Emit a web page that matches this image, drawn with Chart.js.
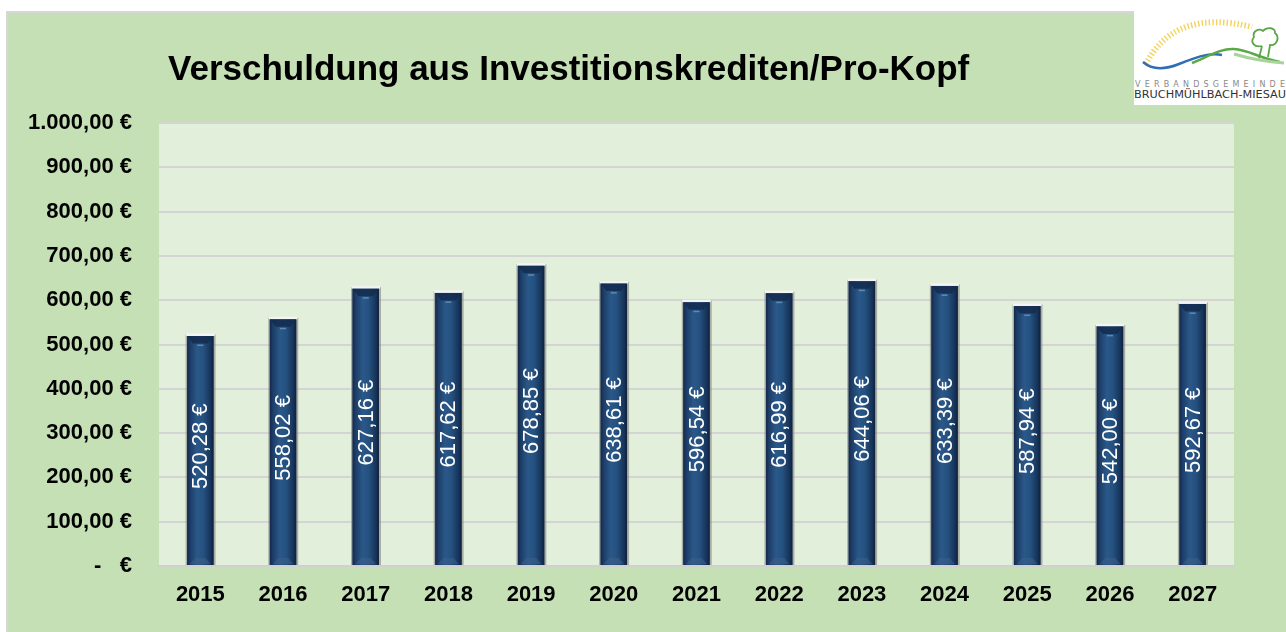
<!DOCTYPE html>
<html>
<head>
<meta charset="utf-8">
<script src="https://cdn.jsdelivr.net/npm/chart.js@4.4.1/dist/chart.umd.min.js"></script>
<style>
  html, body { margin: 0; padding: 0; background: #ffffff; }
  #wrap { position: relative; width: 1286px; height: 632px; overflow: hidden; }
  #c { position: absolute; left: 0; top: 0; }
  #logo { position: absolute; left: 1134px; top: 0; width: 152px; height: 105px; }
</style>
</head>
<body>
<div id="wrap">
  <canvas id="c" width="1286" height="632"></canvas>
  <svg id="logo" width="152" height="105" viewBox="0 0 152 105">
    <rect x="0" y="0" width="152" height="105" fill="#ffffff"/>
    <path d="M12 64 Q 40 8, 118 27" fill="none" stroke="#f3d35a" stroke-width="6" stroke-dasharray="1.4 2.2"/>
    <path d="M9 62 C 18 70, 30 70, 45 64 C 60 58, 75 52, 88 55" fill="none" stroke="#2f6db5" stroke-width="2.5"/>
    <path d="M58 63 C 75 56, 88 48, 100 49 C 115 50, 125 58, 146 62" fill="none" stroke="#5aa846" stroke-width="2.5"/>
    <path d="M100 54 C 120 60, 135 62, 150 63" fill="none" stroke="#a8d49a" stroke-width="3"/>
    <path d="M125 58 L128 46 M128 46 C 120 48, 116 42, 120 37 C 118 31, 125 28, 129 31 C 133 26, 142 28, 141 33 C 146 37, 143 46, 136 45 L134 57" fill="none" stroke="#5aa846" stroke-width="1.8"/>
    <text x="1" y="87" font-family="DejaVu Sans" font-size="8" fill="#8a8a8a" textLength="150" lengthAdjust="spacing">VERBANDSGEMEINDE</text>
    <text x="0" y="98" font-family="DejaVu Sans Condensed, DejaVu Sans" font-size="11" fill="#333333" textLength="152" lengthAdjust="spacingAndGlyphs">BRUCHMÜHLBACH-MIESAU</text>
  </svg>
</div>
<script>
const chartTitle = 'Verschuldung aus Investitionskrediten/Pro-Kopf';
const years = ['2015','2016','2017','2018','2019','2020','2021','2022','2023','2024','2025','2026','2027'];
const debtPerCapita = [520.28, 558.02, 627.16, 617.62, 678.85, 638.61, 596.54, 616.99, 644.06, 633.39, 587.94, 542.00, 592.67];
const yTicks = [0, 100, 200, 300, 400, 500, 600, 700, 800, 900, 1000];

function fmtEuro(v) {
  if (v === 0) return '-   €';
  const parts = v.toFixed(2).split('.');
  const intPart = parts[0].replace(/\B(?=(\d{3})+(?!\d))/g, '.');
  return intPart + ',' + parts[1] + ' €';
}
const FONT = '"Liberation Sans", Arial, sans-serif';

const backgroundPlugin = {
  id: 'bg',
  beforeDraw(chart) {
    const ctx = chart.ctx;
    const ca = chart.chartArea;
    ctx.save();
    ctx.fillStyle = '#ffffff';
    ctx.fillRect(0, 0, chart.width, chart.height);
    ctx.fillStyle = '#d6d6d6';
    ctx.fillRect(6, 11, chart.width - 6, chart.height - 11);
    ctx.fillStyle = '#c5e0b4';
    ctx.fillRect(8, 13, chart.width - 8, chart.height - 13);
    ctx.fillStyle = '#e2efda';
    ctx.fillRect(ca.left, ca.top, ca.right - ca.left, ca.bottom - ca.top);
    // title
    ctx.fillStyle = '#000000';
    ctx.font = 'bold 35px ' + FONT;
    ctx.textAlign = 'left';
    ctx.textBaseline = 'alphabetic';
    ctx.fillText(chartTitle, 168, 80);
    ctx.restore();
  }
};

const barStylePlugin = {
  id: 'barStyle',
  afterDatasetsDraw(chart) {
    const ctx = chart.ctx;
    const meta = chart.getDatasetMeta(0);
    ctx.save();
    meta.data.forEach((bar, i) => {
      const w = bar.width;
      const l = bar.x - w / 2, r = bar.x + w / 2;
      const t = bar.y, b = bar.base;
      ctx.fillStyle = 'rgba(120,120,120,0.55)';
      ctx.fillRect(l - 1.5, t - 1, w + 3.5, b - t + 1);
      const g = ctx.createLinearGradient(l, 0, r, 0);
      g.addColorStop(0, '#13284a');
      g.addColorStop(0.12, '#1d3e68');
      g.addColorStop(0.38, '#2a5889');
      g.addColorStop(0.62, '#24517f');
      g.addColorStop(0.88, '#17345a');
      g.addColorStop(1, '#0f213d');
      ctx.fillStyle = g;
      ctx.fillRect(l, t, w, b - t);
      ctx.fillStyle = '#f4f4f4';
      ctx.fillRect(l - 1, t - 2, w + 2, 2.5);
      ctx.fillStyle = 'rgba(20,45,80,0.9)';
      ctx.beginPath();
      ctx.moveTo(l, t + 0.5); ctx.lineTo(r, t + 0.5); ctx.lineTo(r - 6, t + 8); ctx.lineTo(l + 6, t + 8); ctx.closePath();
      ctx.fill();
      ctx.fillStyle = 'rgba(120,160,200,0.7)';
      ctx.fillRect(bar.x - 3, t + 9, 6, 1.5);
      ctx.fillStyle = 'rgba(60,95,135,0.6)';
      ctx.beginPath();
      ctx.moveTo(l + 3, b - 1); ctx.lineTo(r - 3, b - 1); ctx.lineTo(r - 8, b - 7); ctx.lineTo(l + 8, b - 7); ctx.closePath();
      ctx.fill();
      ctx.save();
      ctx.translate(bar.x + 1, (t + b) / 2 - 4);
      ctx.rotate(-Math.PI / 2);
      ctx.fillStyle = '#ffffff';
      ctx.font = '22px ' + FONT;
      ctx.textAlign = 'center';
      ctx.textBaseline = 'middle';
      ctx.fillText(fmtEuro(debtPerCapita[i]), 0, 0);
      ctx.restore();
    });
    ctx.restore();
  }
};

new Chart(document.getElementById('c'), {
  type: 'bar',
  data: {
    labels: years,
    datasets: [{
      data: debtPerCapita,
      backgroundColor: '#1f4a78',
      barPercentage: 0.32,
      categoryPercentage: 1.0
    }]
  },
  options: {
    responsive: false,
    animation: false,
    devicePixelRatio: 1,
    layout: { padding: { top: 123, right: 52, left: 0, bottom: 0 } },
    plugins: { legend: { display: false }, tooltip: { enabled: false }, title: { display: false } },
    scales: {
      x: {
        afterFit(s) { s.height = 66; },
        grid: { display: false, drawTicks: false },
        border: { display: true, color: '#d0d0d0', width: 2 },
        ticks: { color: '#000000', font: { family: FONT, size: 22, weight: 'bold' }, padding: 16 }
      },
      y: {
        min: 0, max: 1000,
        afterFit(s) { s.width = 159; },
        afterBuildTicks(s) { s.ticks = yTicks.map(v => ({ value: v })); },
        grid: { color: '#d4d4d4', lineWidth: 2, drawTicks: false },
        border: { display: false },
        ticks: {
          color: '#000000',
          font: { family: FONT, size: 22, weight: 'bold' },
          padding: 27,
          callback: v => fmtEuro(v)
        }
      }
    }
  },
  plugins: [backgroundPlugin, barStylePlugin]
});
</script>
</body>
</html>
